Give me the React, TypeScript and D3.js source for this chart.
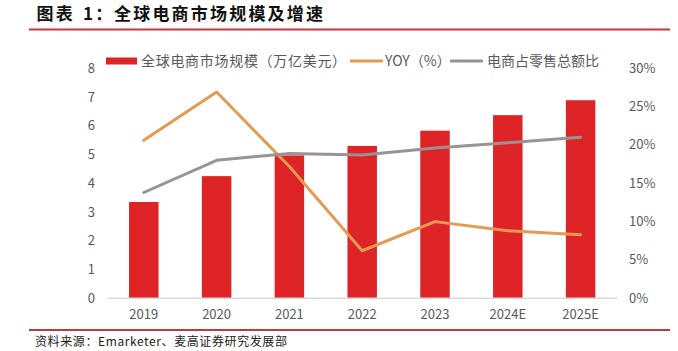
import React from "react";
import * as d3 from "d3";

const years = ["2019", "2020", "2021", "2022", "2023", "2024E", "2025E"];
// 全球电商市场规模（万亿美元）
const marketSize = [3.35, 4.25, 4.97, 5.3, 5.83, 6.37, 6.89];
// YOY (%)
const yoy = [20.6, 26.9, 17.2, 6.2, 10.0, 8.8, 8.3];
// 电商占零售总额比 (%)
const share = [13.8, 18.0, 18.9, 18.7, 19.6, 20.3, 21.0];

const leftTicks = [0, 1, 2, 3, 4, 5, 6, 7, 8];
const rightTicks = [0, 5, 10, 15, 20, 25, 30];

const W = 678;
const H = 351;
const plot = { left: 107.4, right: 617, top: 68.3, bottom: 298.3 };

const RED = "#DF2427";
const ORANGE = "#E39A53";
const GRAY = "#999393";
const TEXT = "#595959";
const FONT = "'Noto Sans CJK SC', 'Noto Sans', sans-serif";

export default function App() {
  const x = d3
    .scaleBand<string>()
    .domain(years)
    .range([plot.left, plot.right])
    .paddingInner(0.595)
    .paddingOuter(0.2975);
  const yL = d3.scaleLinear().domain([0, 8]).range([plot.bottom, plot.top]);
  const yR = d3.scaleLinear().domain([0, 30]).range([plot.bottom, plot.top]);
  const cx = (d: string) => (x(d) ?? 0) + x.bandwidth() / 2;

  const line = d3
    .line<number>()
    .x((_, i) => cx(years[i]))
    .y((d) => yR(d));

  return (
    <svg
      width={W}
      height={H}
      style={{ position: "absolute", left: 0, top: 0, background: "#fff" }}
      fontFamily={FONT}
    >
      {/* title */}
      <text y={19.5} fontSize={17} fontWeight="bold" fill="#111" letterSpacing={2.2}>
        <tspan x={36.5}>图表</tspan>
        <tspan x={83}>1：</tspan>
        <tspan x={114}>全球电商市场规模及增速</tspan>
      </text>
      <line x1={29} x2={670} y1={29.5} y2={29.5} stroke="#C9363A" strokeWidth={2} />

      {/* legend */}
      <g fontSize={14} fill={TEXT}>
        <rect x={106} y={57.5} width={31} height={7} fill={RED} />
        <text x={141} y={66} letterSpacing={0.7}>全球电商市场规模（万亿美元）</text>
        <line x1={350} x2={383} y1={61} y2={61} stroke={ORANGE} strokeWidth={3} />
        <text x={385} y={66}>YOY（%）</text>
        <line x1={450} x2={483} y1={61} y2={61} stroke={GRAY} strokeWidth={3} />
        <text x={487} y={66}>电商占零售总额比</text>
      </g>

      {/* left axis */}
      <g fontSize={13} fill={TEXT} textAnchor="end">
        {leftTicks.map((t) => (
          <text key={t} x={95} y={yL(t) + 4.5}>
            {t}
          </text>
        ))}
      </g>
      {/* right axis */}
      <g fontSize={13} fill={TEXT}>
        {rightTicks.map((t) => (
          <text key={t} x={629} y={yR(t) + 4.5}>
            {t}%
          </text>
        ))}
      </g>

      {/* bars */}
      {marketSize.map((v, i) => (
        <rect
          key={years[i]}
          x={x(years[i])}
          y={yL(v)}
          width={x.bandwidth()}
          height={yL(0) - yL(v)}
          fill={RED}
        />
      ))}

      <line
        x1={plot.left}
        x2={plot.right}
        y1={plot.bottom}
        y2={plot.bottom}
        stroke="#D9D9D9"
        strokeWidth={1.5}
      />

      {/* lines */}
      <path d={line(yoy) ?? ""} fill="none" stroke={ORANGE} strokeWidth={3} strokeLinejoin="round" strokeLinecap="round" />
      <path d={line(share) ?? ""} fill="none" stroke={GRAY} strokeWidth={3} strokeLinejoin="round" strokeLinecap="round" />

      {/* x labels */}
      <g fontSize={13} fill={TEXT} textAnchor="middle">
        {years.map((d) => (
          <text key={d} x={cx(d)} y={319}>
            {d}
          </text>
        ))}
      </g>

      <line x1={29} x2={670} y1={330} y2={330} stroke="#C9363A" strokeWidth={2} />
      <text x={35} y={346} fontSize={12} fill="#222" letterSpacing={0.6}>
        资料来源：Emarketer、麦高证券研究发展部
      </text>
    </svg>
  );
}
